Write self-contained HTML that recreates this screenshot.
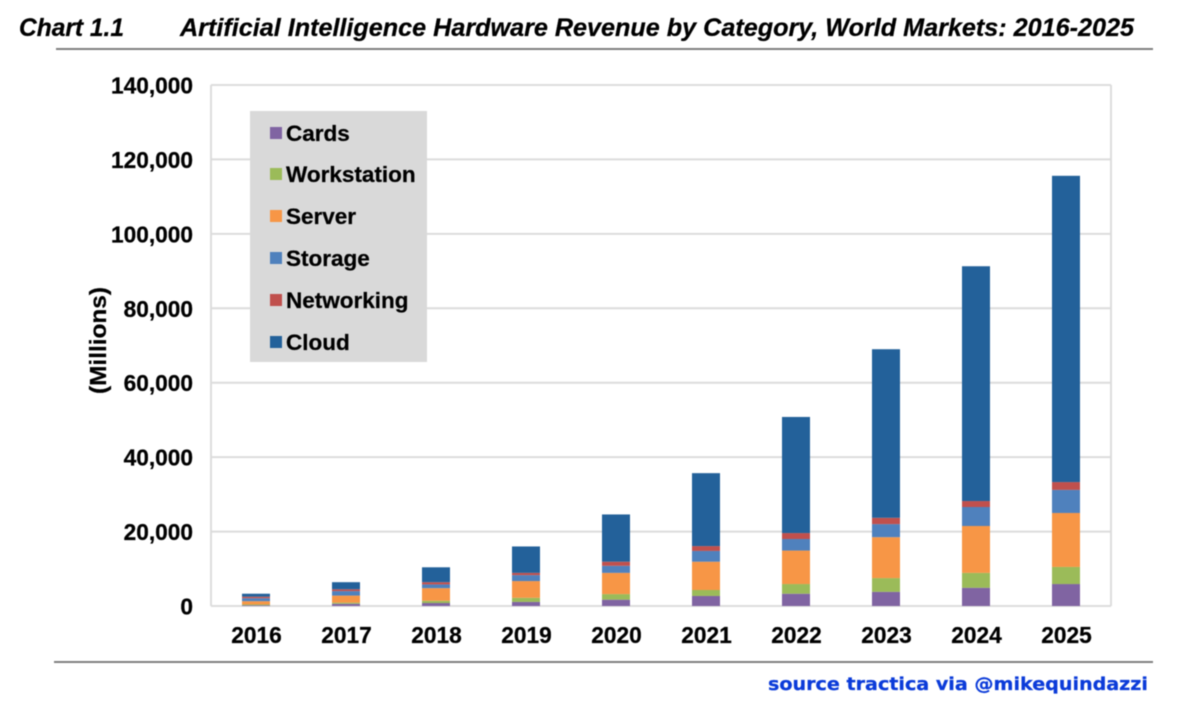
<!DOCTYPE html>
<html lang="en">
<head>
<meta charset="utf-8">
<title>Artificial Intelligence Hardware Revenue by Category</title>
<style>
html,body{margin:0;padding:0;background:#fff;width:1199px;height:712px;overflow:hidden}
svg{display:block;filter:blur(0.4px)}
text{font-family:"Liberation Sans",sans-serif;font-weight:bold;fill:#000;stroke:#000;stroke-width:0.25px}
</style>
</head>
<body>
<svg id="chart" xmlns="http://www.w3.org/2000/svg" width="1199" height="712" viewBox="0 0 1199 712">
  <text x="19" y="36" font-size="25" font-style="italic" textLength="105" lengthAdjust="spacingAndGlyphs">Chart 1.1</text>
  <text x="180" y="36" font-size="25" font-style="italic" textLength="954" lengthAdjust="spacingAndGlyphs">Artificial Intelligence Hardware Revenue by Category, World Markets: 2016-2025</text>
  <rect x="56" y="48" width="1097" height="2" fill="#808080"/>
  <g id="grid"></g>
  <g id="yticks"></g>
  <g id="bars"></g>
  <g id="xticks"></g>
  <text transform="translate(106 340.5) rotate(-90)" text-anchor="middle" font-size="23" textLength="107" lengthAdjust="spacingAndGlyphs">(Millions)</text>
  <g>
    <rect x="250" y="111" width="177" height="251" fill="#d9d9d9"/>
    <g><rect x="270" y="127" width="12" height="12" fill="#8064a2"/><text x="286" y="141" font-size="22.5">Cards</text></g>
    <g><rect x="270" y="168" width="12" height="12" fill="#9bbb59"/><text x="286" y="182" font-size="22.5">Workstation</text></g>
    <g><rect x="270" y="210" width="12" height="12" fill="#f79646"/><text x="286" y="224" font-size="22.5">Server</text></g>
    <g><rect x="270" y="252" width="12" height="12" fill="#4f81bd"/><text x="286" y="266" font-size="22.5">Storage</text></g>
    <g><rect x="270" y="294" width="12" height="12" fill="#c0504d"/><text x="286" y="308" font-size="22.5">Networking</text></g>
    <g><rect x="270" y="336" width="12" height="12" fill="#23619a"/><text x="286" y="350" font-size="22.5">Cloud</text></g>
  </g>
  <rect x="54" y="661" width="1099" height="2" fill="#808080"/>
  <text x="768" y="690" font-size="18" textLength="380" lengthAdjust="spacingAndGlyphs" style="font-family:'DejaVu Sans',sans-serif;fill:#0b3bd9;stroke:#0b3bd9">source tractica via @mikequindazzi</text>
</svg>
<script>
const years = ['2016','2017','2018','2019','2020','2021','2022','2023','2024','2025'];
const yTicks = [0,20000,40000,60000,80000,100000,120000,140000];
const cards = [200,600,800,1100,1700,2700,3300,3800,4900,5900];
const workstation = [200,300,600,1100,1500,1600,2600,3700,4000,4600];
const server = [900,1900,3400,4500,5700,7600,9000,11000,12600,14500];
const storage = [800,1200,1000,1600,1900,2900,3100,3500,5100,6200];
const networking = [400,500,600,600,1100,1300,1600,1700,1600,2100];
const cloud = [800,1900,4000,7100,12700,19600,31200,45300,63100,82300];

const NS = 'http://www.w3.org/2000/svg';
const plot = {left:211, right:1111, top:85, bottom:606, max:140000};
const yScale = v => plot.bottom - (v / plot.max) * (plot.bottom - plot.top);
const xBand = i => plot.left + (i + 0.5) * (plot.right - plot.left) / years.length;
const barWidth = 28;

const stackOrder = [
  {name:'cards', values:cards, color:'#8064a2'},
  {name:'workstation', values:workstation, color:'#9bbb59'},
  {name:'server', values:server, color:'#f79646'},
  {name:'storage', values:storage, color:'#4f81bd'},
  {name:'networking', values:networking, color:'#c0504d'},
  {name:'cloud', values:cloud, color:'#23619a'}
];

function make(tag, attrs, parent) {
  const el = document.createElementNS(NS, tag);
  for (const k in attrs) el.setAttribute(k, attrs[k]);
  parent.appendChild(el);
  return el;
}

const gridG = document.getElementById('grid');
const yG = document.getElementById('yticks');
const xG = document.getElementById('xticks');
const barG = document.getElementById('bars');
const gridColor = '#dcdcdc';

yTicks.forEach(t => {
  const y = yScale(t);
  const line = make('line', {x1:plot.left, x2:plot.right, y1:y, y2:y, stroke:gridColor, 'stroke-width':2}, gridG);
  
  
  const label = make('text', {x:193, y:y + 8.5, 'text-anchor':'end', 'font-size':22.7}, yG);
  
  
  label.textContent = t.toLocaleString('en-US');
});

[plot.left, plot.right].forEach((x, n) => {
  const edge = make('line', {x1:x, x2:x, y1:plot.top, y2:plot.bottom, stroke:gridColor, 'stroke-width':2}, gridG);
  
  
});

years.forEach((year, i) => {
  const cx = xBand(i);
  let cum = 0;
  stackOrder.forEach(s => {
    const v = s.values[i];
    const top = yScale(cum + v);
    const bottom = yScale(cum);
    const seg = make('rect', {x:cx - barWidth / 2, y:top, width:barWidth, height:bottom - top, fill:s.color}, barG);
    
    
    cum += v;
  });
  const label = make('text', {x:cx + 0.5, y:643, 'text-anchor':'middle', 'font-size':22.7}, xG);
  
  
  label.textContent = year;
});
</script>
</body>
</html>
